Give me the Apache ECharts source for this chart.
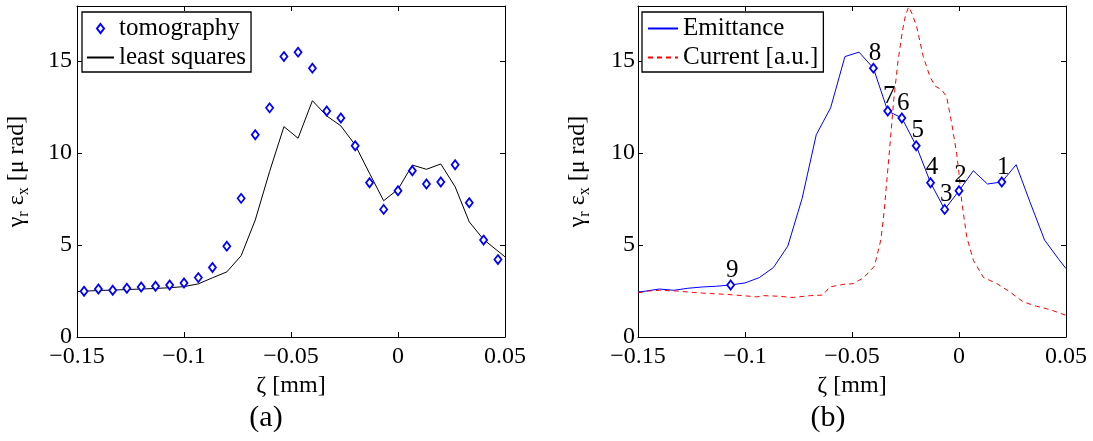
<!DOCTYPE html>
<html>
<head>
<meta charset="utf-8">
<script src="https://cdn.jsdelivr.net/npm/echarts@6/dist/echarts.min.js"></script>
<style>
  html, body { margin: 0; padding: 0; background: #fff; }
  #chart { width: 1093px; height: 441px; }
</style>
</head>
<body>
<div id="chart"></div>
<script>
// Longitudinal slice positions zeta [mm] of the tomography reconstruction
const tomoZeta = [-0.1467, -0.14, -0.1333, -0.1267, -0.12, -0.1133, -0.1067, -0.1, -0.0933, -0.0867,
  -0.08, -0.0733, -0.0667, -0.06, -0.0533, -0.0467, -0.04, -0.0333, -0.0267, -0.02,
  -0.0133, -0.0067, 0, 0.0067, 0.0133, 0.02, 0.0267, 0.0333, 0.04, 0.0467];
// Slice emittance from tomography [mu rad]
const tomoValue = [2.49, 2.61, 2.54, 2.65, 2.72, 2.76, 2.83, 2.94, 3.23, 3.78,
  4.94, 7.54, 11.0, 12.46, 15.25, 15.49, 14.62, 12.29, 11.91, 10.40,
  8.39, 6.94, 7.95, 9.04, 8.32, 8.43, 9.37, 7.30, 5.27, 4.21];

// Least squares slice emittance
const lsZeta = [-0.15, -0.1467, -0.14, -0.1333, -0.1267, -0.12, -0.1133, -0.1067, -0.1, -0.0933, -0.0867,
  -0.08, -0.0733, -0.0667, -0.06, -0.0533, -0.0467, -0.04, -0.0333, -0.0267, -0.02,
  -0.0133, -0.0067, 0, 0.0067, 0.0133, 0.02, 0.0267, 0.0333, 0.04, 0.0467, 0.05];
const lsValue = [2.47, 2.49, 2.53, 2.55, 2.58, 2.61, 2.64, 2.68, 2.74, 2.89, 3.22,
  3.54, 4.42, 6.36, 9.0, 11.44, 10.81, 12.85, 12.02, 11.48, 10.44,
  8.9, 7.41, 8.03, 9.35, 9.12, 9.41, 8.17, 6.26, 5.30, 4.67, 4.36];

// Emittance curve end points at the window edges
const emitEdgeZeta = [-0.15, 0.05];
const emitEdgeValue = [2.45, 3.72];

// Beam current profile [a.u.]
const curZeta = [-0.15, -0.145, -0.14, -0.132, -0.124, -0.116, -0.109, -0.101, -0.0945, -0.0915,
  -0.085, -0.0775, -0.0695, -0.0635, -0.0605, -0.054, -0.0495, -0.0445, -0.0395, -0.0365,
  -0.035, -0.0335, -0.032, -0.0305, -0.0285, -0.0265, -0.025, -0.0235, -0.022, -0.0198,
  -0.0167, -0.0136, -0.0112, -0.0081, -0.0058, -0.0034, -0.0011, 0, 0.0012, 0.0036,
  0.0067, 0.0114, 0.0176, 0.0238, 0.03, 0.0363, 0.0425, 0.05];
const curValue = [2.40, 2.50, 2.54, 2.50, 2.42, 2.36, 2.32, 2.25, 2.18, 2.25,
  2.22, 2.15, 2.25, 2.28, 2.72, 2.86, 2.90, 3.23, 3.85, 5.3,
  6.8, 8.8, 10.8, 12.9, 15.0, 16.6, 17.5, 17.95, 17.6, 16.88,
  15.25, 14.16, 13.65, 13.44, 13.07, 11.62, 9.99, 8.9, 7.45, 5.45,
  4.18, 3.24, 2.91, 2.45, 1.91, 1.67, 1.49, 1.18];

// Numbered slices marked on the emittance curve (index into tomography arrays)
const tagLabels = ['1', '2', '3', '4', '5', '6', '7', '8', '9'];
const tagIndex = [25, 22, 21, 20, 19, 18, 17, 16, 6];

// Axis ranges and ticks
const xRange = [-0.15, 0.05];
const xStep = 0.05;
const yRange = [0, 18];
const yStep = 5;

const FONT = '"Liberation Serif", "Times New Roman", serif';
const BLACK = '#000';
const BLUE = '#0000ff';
const RED = '#ff0000';

const pairs = (xs, ys) => xs.map((x, i) => [x, ys[i]]);
const emitData = [[emitEdgeZeta[0], emitEdgeValue[0]]]
  .concat(pairs(tomoZeta, tomoValue))
  .concat([[emitEdgeZeta[1], emitEdgeValue[1]]]);
const tagData = tagIndex.map((idx, i) => ({ value: [tomoZeta[idx], tomoValue[idx]], name: tagLabels[i] }));

const fmtX = v => {
  if (Math.abs(v) < 1e-9) return '0';
  const s = String(+Math.abs(v).toFixed(3));
  return (v < 0 ? '\u2212' : '') + s;
};

const grids = [
  { left: 77, top: 6, width: 428, height: 331 },
  { left: 638, top: 6, width: 428, height: 331 }
];

const tickStyle = { inside: true, length: 5, lineStyle: { color: BLACK, width: 1 } };
const lineStyle = { color: BLACK, width: 1 };

function xAxes(gi) {
  return [
    {
      type: 'value', gridIndex: gi, position: 'bottom',
      min: xRange[0], max: xRange[1], interval: xStep,
      axisLine: { show: true, onZero: false, lineStyle },
      axisTick: tickStyle,
      splitLine: { show: false },
      axisLabel: { formatter: fmtX, color: BLACK, fontFamily: FONT, fontSize: 24, margin: 8 },
      name: '\u03b6 [mm]', nameLocation: 'middle', nameGap: 31,
      nameTextStyle: { color: BLACK, fontFamily: FONT, fontSize: 24 }
    },
    {
      type: 'value', gridIndex: gi, position: 'top',
      min: xRange[0], max: xRange[1], interval: xStep,
      axisLine: { show: true, onZero: false, lineStyle },
      axisTick: tickStyle,
      splitLine: { show: false },
      axisLabel: { show: false }
    }
  ];
}

function yAxes(gi, labelMargin) {
  return [
    {
      type: 'value', gridIndex: gi, position: 'left',
      min: yRange[0], max: yRange[1], interval: yStep,
      axisLine: { show: true, onZero: false, lineStyle },
      axisTick: tickStyle,
      splitLine: { show: false },
      axisLabel: { color: BLACK, fontFamily: FONT, fontSize: 24, margin: labelMargin, showMaxLabel: false },
      name: '{g|\u03b3}{s|r}{g| \u03b5}{s|x}{g| [\u03bc rad]}',
      nameLocation: 'middle', nameRotate: 90, nameGap: 45,
      nameTextStyle: {
        color: BLACK, fontFamily: FONT, fontSize: 24,
        rich: {
          g: { fontFamily: FONT, fontSize: 24, color: BLACK },
          s: { fontFamily: FONT, fontSize: 16, color: BLACK, padding: [14, 0, 0, 0] }
        }
      }
    },
    {
      type: 'value', gridIndex: gi, position: 'right',
      min: yRange[0], max: yRange[1], interval: yStep,
      axisLine: { show: true, onZero: false, lineStyle },
      axisTick: tickStyle,
      splitLine: { show: false },
      axisLabel: { show: false }
    }
  ];
}

const diamondIcon = 'path://M0,-9L7,0L0,9L-7,0Z';
// Line-only legend entries: the symbol slot is made invisible
const lineOnly = { opacity: 0 };
const legendBase = {
  orient: 'vertical',
  top: 12,
  itemGap: 4,
  itemHeight: 9,
  borderColor: BLACK,
  borderWidth: 1.3,
  borderRadius: 0,
  backgroundColor: '#fff',
  selectedMode: false,
  textStyle: { color: BLACK, fontFamily: FONT, fontSize: 25 }
};

const option = {
  animation: false,
  backgroundColor: '#fff',
  grid: grids.map(g => Object.assign({ outerBoundsMode: 'none', containLabel: false }, g)),
  xAxis: xAxes(0).concat(xAxes(1)),
  yAxis: yAxes(0, 5).concat(yAxes(1, 3)),
  legend: [
    Object.assign({}, legendBase, {
      left: 82, itemWidth: 27, padding: [4, 5, 2, 4],
      data: [
        { name: 'tomography', icon: diamondIcon },
        { name: 'least squares', itemStyle: lineOnly }
      ]
    }),
    Object.assign({}, legendBase, {
      left: 642, itemWidth: 30, padding: [4, 5, 2, 5],
      data: [
        { name: 'Emittance', itemStyle: lineOnly },
        { name: 'Current [a.u.]', itemStyle: lineOnly }
      ]
    })
  ],
  graphic: [
    { type: 'text', x: 266, y: 418, style: { text: '(a)', font: '30px ' + FONT, fill: BLACK, align: 'center', verticalAlign: 'middle', textAlign: 'center', textVerticalAlign: 'middle' } },
    { type: 'text', x: 828, y: 418, style: { text: '(b)', font: '30px ' + FONT, fill: BLACK, align: 'center', verticalAlign: 'middle', textAlign: 'center', textVerticalAlign: 'middle' } }
  ],
  series: [
    {
      name: 'least squares', type: 'line', xAxisIndex: 0, yAxisIndex: 0,
      data: pairs(lsZeta, lsValue), symbol: 'none',
      lineStyle: { color: BLACK, width: 1 }, itemStyle: { color: BLACK },
      z: 2
    },
    {
      name: 'tomography', type: 'scatter', xAxisIndex: 0, yAxisIndex: 0,
      data: pairs(tomoZeta, tomoValue), symbol: 'diamond', symbolSize: [7, 9],
      itemStyle: { color: '#fff', borderColor: BLUE, borderWidth: 1.8, opacity: 1 },
      z: 3
    },
    {
      name: 'Emittance', type: 'line', xAxisIndex: 2, yAxisIndex: 2,
      data: emitData, symbol: 'none',
      lineStyle: { color: BLUE, width: 1 }, itemStyle: { color: BLUE },
      z: 2
    },
    {
      name: 'Current [a.u.]', type: 'line', xAxisIndex: 2, yAxisIndex: 2,
      data: pairs(curZeta, curValue), symbol: 'none',
      lineStyle: { color: RED, width: 1, type: [5, 4] }, itemStyle: { color: RED },
      z: 2
    },
    {
      name: 'slices', type: 'scatter', xAxisIndex: 2, yAxisIndex: 2,
      data: tagData, symbol: 'diamond', symbolSize: [7, 9],
      itemStyle: { color: '#fff', borderColor: BLUE, borderWidth: 1.8, opacity: 1 },
      label: {
        show: true, position: 'top', distance: -3, offset: [1.5, 0],
        formatter: p => p.name, color: BLACK, fontFamily: FONT, fontSize: 25
      },
      z: 4
    }
  ]
};

const chart = echarts.init(document.getElementById('chart'), null, { renderer: 'canvas' });
chart.setOption(option);
</script>
</body>
</html>
